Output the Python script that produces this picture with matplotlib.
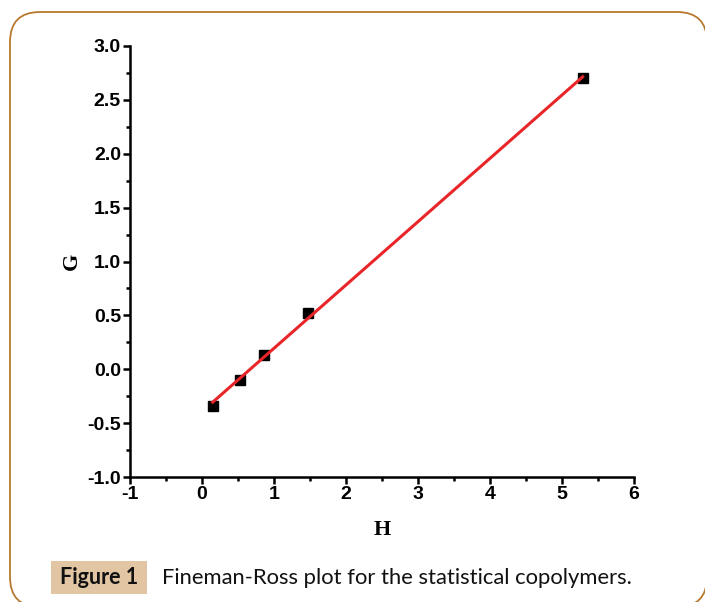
import numpy as np
import matplotlib.pyplot as plt
from matplotlib.patches import FancyBboxPatch, Rectangle
from matplotlib.ticker import MultipleLocator

# Fineman-Ross 数据
H = [0.149, 0.524, 0.863, 1.475, 5.292]
G = [-0.339, -0.101, 0.133, 0.520, 2.698]

x_ticks = [-1, 0, 1, 2, 3, 4, 5, 6]
y_ticks = [-1.0, -0.5, 0.0, 0.5, 1.0, 1.5, 2.0, 2.5, 3.0]

caption_tag = 'Figure 1'
caption_text = 'Fineman-Ross plot for the statistical copolymers.'

fig = plt.figure(figsize=(7.05, 6.02), dpi=100)

# 背景框 (像素坐标)
bg = fig.add_axes([0, 0, 1, 1])
bg.set_xlim(0, 705)
bg.set_ylim(602, 0)
bg.axis('off')
bg.add_patch(FancyBboxPatch((10, 12), 697, 595,
                            boxstyle='round,pad=0,rounding_size=30',
                            facecolor='white', edgecolor='#b8792f', linewidth=1.3))
bg.add_patch(Rectangle((51, 561), 96, 33, facecolor='#e2c6a4', edgecolor='none'))
bg.text(99, 578, caption_tag, ha='center', va='center', fontsize=15.5,
        fontweight='bold', family='Lato', color='#111111')
bg.text(162, 578, caption_text, ha='left', va='center', fontsize=15.8,
        family='Lato', color='#111111')

# 主图
ax = fig.add_axes([130 / 705, 1 - 477.3 / 602, 503.6 / 705, 431.6 / 602])
ax.set_facecolor('none')

coef = np.polyfit(H, G, 1)
xs = np.array([min(H), max(H)])
ax.plot(xs, np.polyval(coef, xs), color='#e8262a', linewidth=2.2, zorder=3)
ax.plot(H, G, 's', color='black', markersize=7.5, zorder=2)

ax.set_xlim(-1, 6)
ax.set_ylim(-1, 3)
tick_font = dict(family=['Liberation Sans Narrow', 'Liberation Sans'],
                 fontweight='bold', fontsize=14)
ax.set_xticks(x_ticks)
ax.set_yticks(y_ticks)
ax.set_xticklabels([str(v) for v in x_ticks], **tick_font)
ax.set_yticklabels([f'{v:.1f}' for v in y_ticks], **tick_font)
ax.xaxis.set_minor_locator(MultipleLocator(0.5))
ax.yaxis.set_minor_locator(MultipleLocator(0.25))

for s in ['top', 'right']:
    ax.spines[s].set_visible(False)
for s in ['left', 'bottom']:
    ax.spines[s].set_linewidth(1.8)

ax.tick_params(which='major', length=5, width=1.8, direction='out', pad=1.5)
ax.tick_params(which='minor', length=3, width=1.8, direction='out')

ax.set_xlabel('H', fontsize=16, fontweight='bold', family='Liberation Serif', labelpad=12)
ax.set_ylabel('G', fontsize=16, fontweight='bold', family='Liberation Serif', labelpad=4)

fig.savefig('out.png', dpi=100)
